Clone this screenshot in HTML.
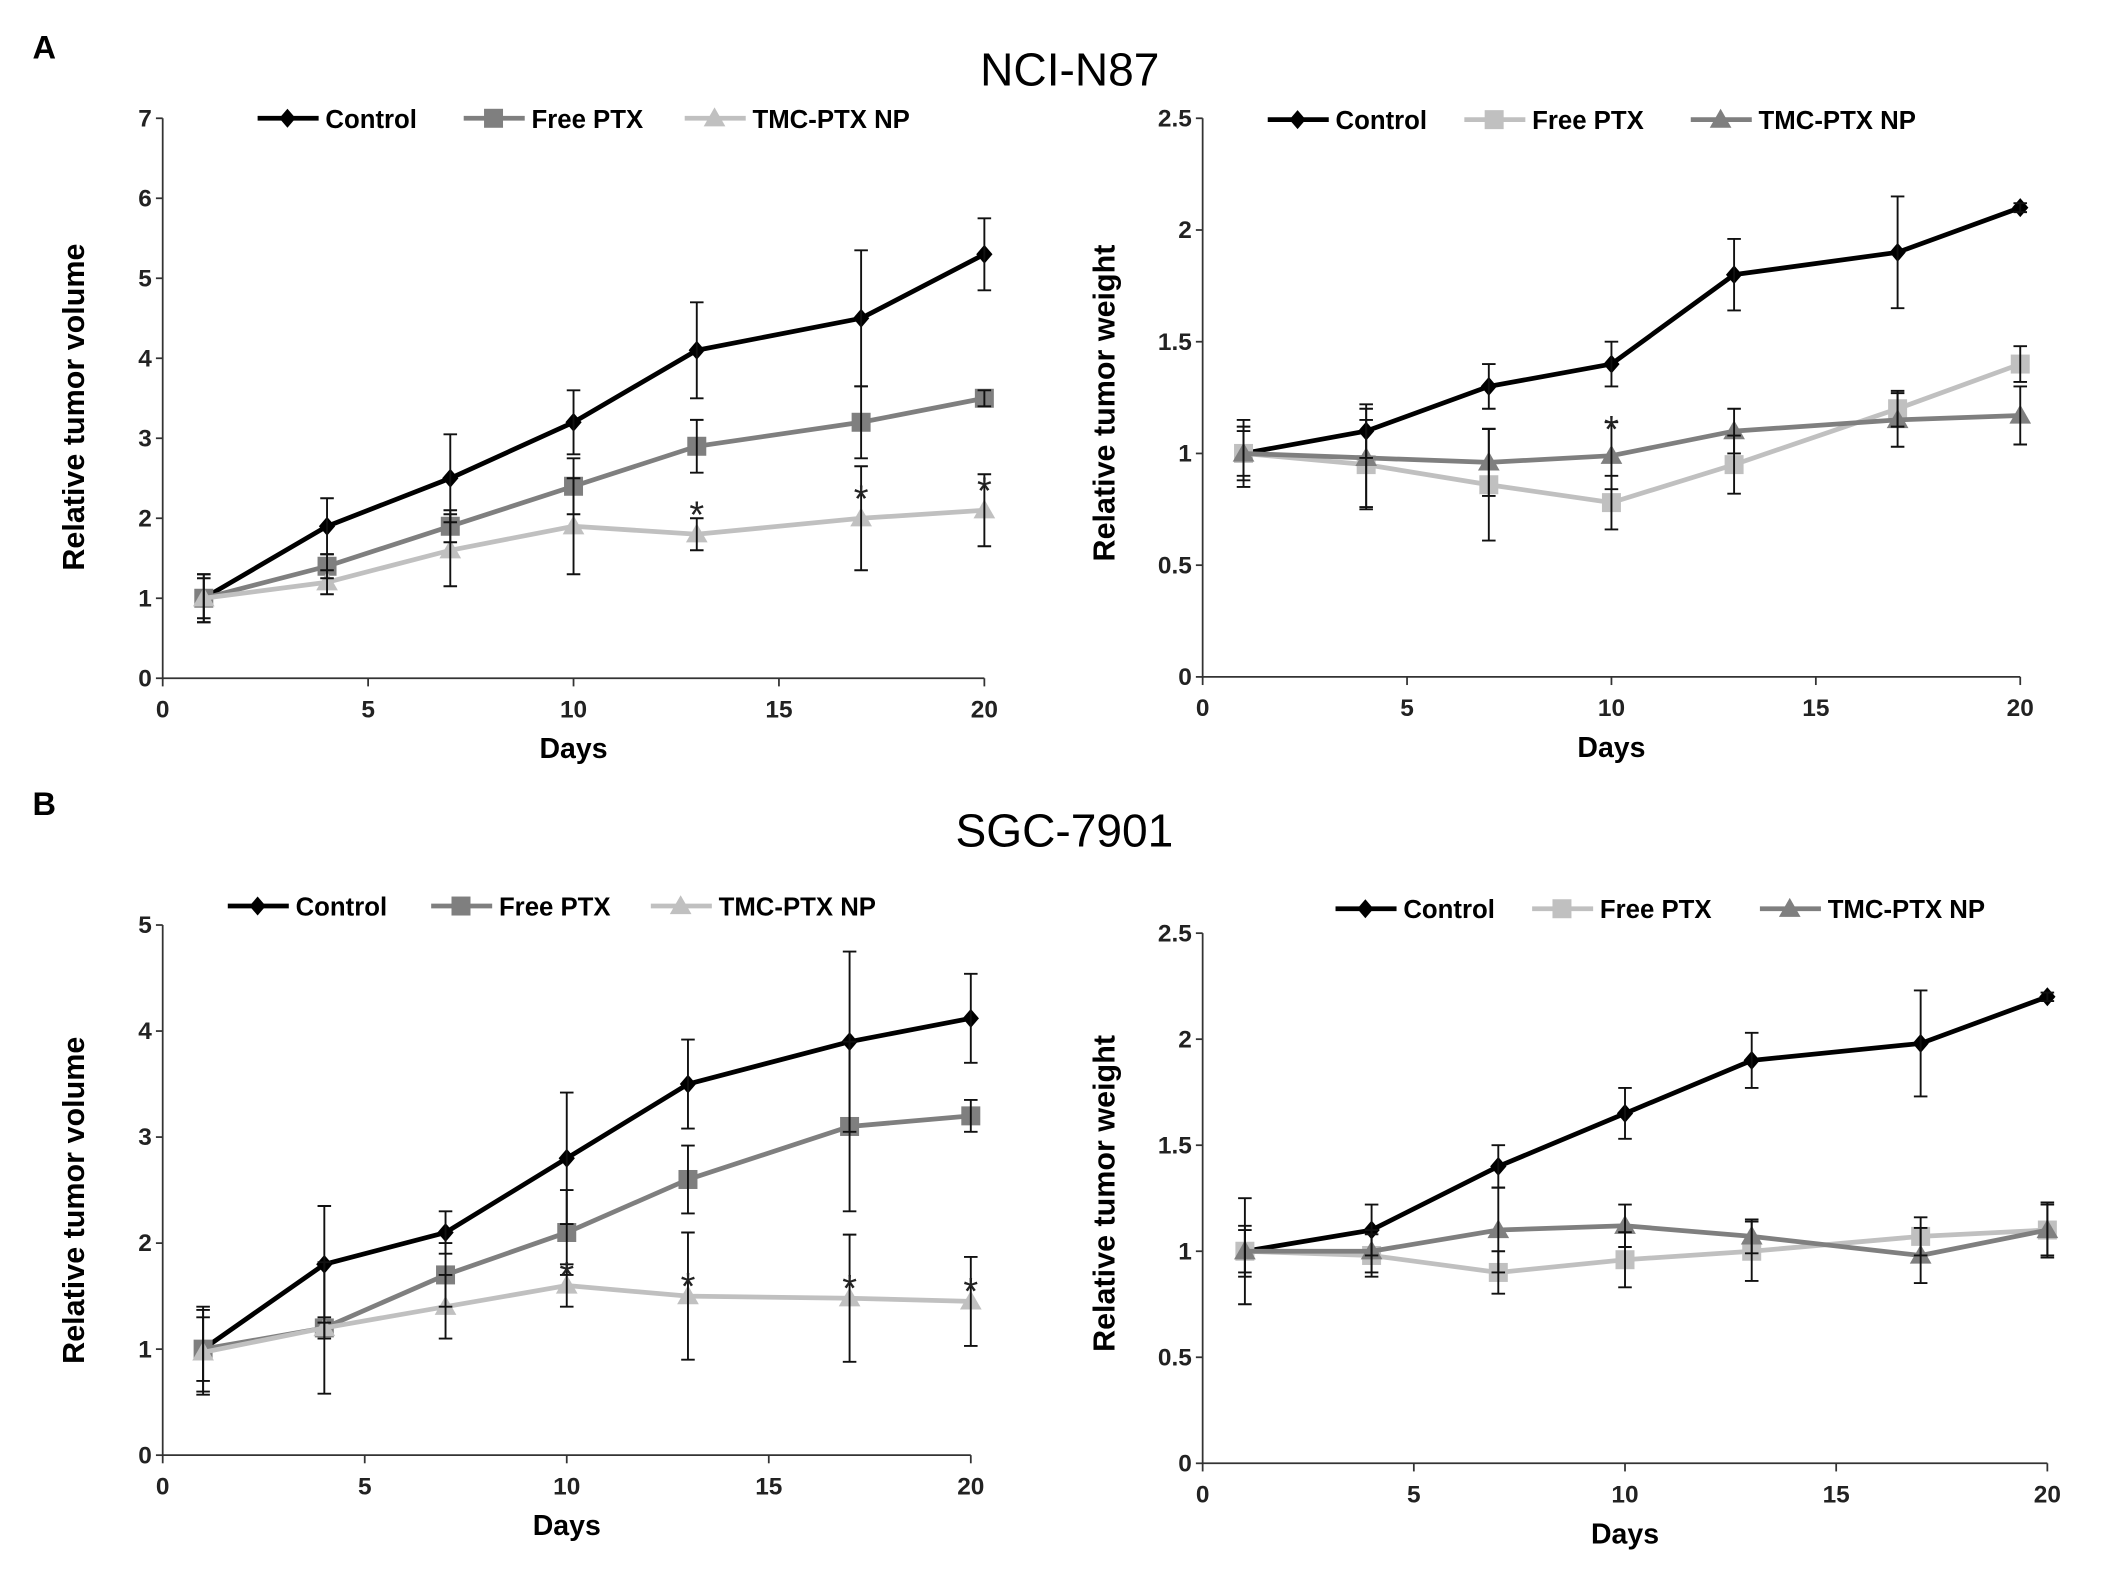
<!DOCTYPE html>
<html><head><meta charset="utf-8"><style>
html,body{margin:0;padding:0;background:#fff}
svg{display:block}
text{font-family:"Liberation Sans",sans-serif}
</style></head><body>
<svg id="fig" width="2126" height="1587" viewBox="0 0 1568 1170" xmlns="http://www.w3.org/2000/svg">
<rect width="1568" height="1170" fill="#fff"/>
<text x="24" y="43" font-family="Liberation Serif" font-weight="bold" font-size="24">A</text>
<text x="24" y="601" font-family="Liberation Serif" font-weight="bold" font-size="24">B</text>
<text x="789" y="63" text-anchor="middle" font-size="34">NCI-N87</text>
<text x="785" y="624" text-anchor="middle" font-size="34">SGC-7901</text>
</svg>
<script>
const days = [1,4,7,10,13,17,20];
// Panel A left: relative tumor volume
const aVolControl = [1,1.9,2.5,3.2,4.1,4.5,5.3];
const aVolControlErr = [0.3,0.35,0.55,0.4,0.6,0.85,0.45];
const aVolFree = [1,1.4,1.9,2.4,2.9,3.2,3.5];
const aVolFreeErr = [0.25,0.15,0.2,0.35,0.33,0.45,0.1];
const aVolTmc = [1,1.2,1.6,1.9,1.8,2.0,2.1];
const aVolTmcErr = [0.3,0.15,0.45,0.6,0.2,0.65,0.45];
const aVolStars = [13,17,20];
// Panel A right: relative tumor weight
const aWtControl = [1,1.1,1.3,1.4,1.8,1.9,2.1];
const aWtControlErr = [0.1,0.12,0.1,0.1,0.16,0.25,0.02];
const aWtFree = [1,0.95,0.86,0.78,0.95,1.2,1.4];
const aWtFreeErr = [0.15,0.2,0.25,0.12,0.13,0.08,0.08];
const aWtTmc = [1,0.98,0.96,0.99,1.1,1.15,1.17];
const aWtTmcErr = [0.12,0.22,0.15,0.15,0.1,0.12,0.13];
const aWtStars = [10];
// Panel B left
const bVolControl = [1,1.8,2.1,2.8,3.5,3.9,4.12];
const bVolControlErr = [0.4,0.55,0.2,0.62,0.42,0.85,0.42];
const bVolFree = [1,1.2,1.7,2.1,2.6,3.1,3.2];
const bVolFreeErr = [0.3,0.62,0.3,0.4,0.32,0.8,0.15];
const bVolTmc = [0.97,1.2,1.4,1.6,1.5,1.48,1.45];
const bVolTmcErr = [0.4,0.1,0.3,0.2,0.6,0.6,0.42];
const bVolStars = [10,13,17,20];
// Panel B right
const bWtControl = [1,1.1,1.4,1.65,1.9,1.98,2.2];
const bWtControlErr = [0.25,0.12,0.1,0.12,0.13,0.25,0.02];
const bWtFree = [1,0.98,0.9,0.96,1.0,1.07,1.1];
const bWtFreeErr = [0.12,0.1,0.1,0.13,0.14,0.09,0.12];
const bWtTmc = [1,1.0,1.1,1.12,1.07,0.98,1.1];
const bWtTmcErr = [0.1,0.1,0.2,0.1,0.08,0.13,0.13];
const bWtStars = [];
const xTicks = [0,5,10,15,20];
const volTicksA = [0,1,2,3,4,5,6,7];
const volTicksB = [0,1,2,3,4,5];
const wtTicks = [0,0.5,1,1.5,2,2.5];

const NS = "http://www.w3.org/2000/svg";
const svg = document.getElementById('fig');
function el(tag, attrs, parent){const e=document.createElementNS(NS,tag);for(const k in attrs)e.setAttribute(k,attrs[k]);(parent||svg).appendChild(e);return e;}

function drawMarker(g, shape, x, y, color){
  let m;
  if(shape==='diamond') m=el('polygon',{points:`${x},${y-7} ${x+6},${y} ${x},${y+7} ${x-6},${y}`,fill:color},g);
  else if(shape==='square') m=el('rect',{x:x-7,y:y-7,width:14,height:14,fill:color},g);
  else m=el('polygon',{points:`${x},${y-8} ${x+8},${y+6} ${x-8},${y+6}`,fill:color},g);
  return m;
}

function panel(o){
  const g=el('g',{});
  
  
  const X=d=>o.x0+(o.x1-o.x0)*d/20;
  const Y=v=>o.y0-(o.y0-o.y1)*v/o.ymax;
  const ax=el('path',{d:`M${o.x0},${o.y1} V${o.y0} H${o.x1}`,stroke:'#333',fill:'none','stroke-width':1.3},g);
  
  
  o.yTicks.forEach(t=>{
    el('line',{x1:o.x0-5,x2:o.x0,y1:Y(t),y2:Y(t),stroke:'#333','stroke-width':1.3},g);
    const tx=el('text',{x:o.x0-8,y:Y(t)+6,'text-anchor':'end','font-size':18,'font-weight':'bold',fill:'#222'},g);
    tx.textContent=t;
    
    
  });
  xTicks.forEach(t=>{
    el('line',{x1:X(t),x2:X(t),y1:o.y0,y2:o.y0+6,stroke:'#333','stroke-width':1.3},g);
    const tx=el('text',{x:X(t),y:o.y0+29,'text-anchor':'middle','font-size':18,'font-weight':'bold',fill:'#222'},g);
    tx.textContent=t;
    
    
  });
  const xl=el('text',{x:(o.x0+o.x1)/2,y:o.y0+59,'text-anchor':'middle','font-size':21,'font-weight':'bold'},g);
  xl.textContent='Days';
  
  
  const yl=el('text',{x:0,y:0,'text-anchor':'middle','font-size':22.5,'font-weight':'bold',transform:`translate(${o.ylx},${o.yly}) rotate(-90)`},g);
  yl.textContent=o.ylabel;
  
  
  o.series.forEach(s=>{
    const sg=el('g',{},g);
    
    
    el('polyline',{points:days.map((d,i)=>`${X(d)},${Y(s.vals[i])}`).join(' '),fill:'none',stroke:s.color,'stroke-width':3.5},sg);
    days.forEach((d,i)=>{
      const m=drawMarker(sg,s.shape,X(d),Y(s.vals[i]),s.color);
      
      
    });
  });
  o.series.forEach(s=>{
    days.forEach((d,i)=>{
      const x=X(d),a=Y(s.vals[i]+s.err[i]),b=Y(s.vals[i]-s.err[i]);
      const e=el('path',{d:`M${x},${a} V${b} M${x-5},${a} H${x+5} M${x-5},${b} H${x+5}`,stroke:'#111','stroke-width':1.4,fill:'none'},g);
      
      
    });
  });
  o.stars.forEach(d=>{
    const i=days.indexOf(d);
    const s=o.series[o.starSeries];
    const st=el('text',{x:X(d),y:Y(s.vals[i])+o.starOff,'text-anchor':'middle','font-size':28,fill:'#222'},g);
    st.textContent='*';
    
    
  });
  o.series.forEach((s,k)=>{
    const lg=el('g',{},g);
    
    
    const lx=o.legX[k];
    el('line',{x1:lx,x2:lx+45,y1:o.legY,y2:o.legY,stroke:s.color,'stroke-width':3.5},lg);
    drawMarker(lg,s.shape,lx+22,o.legY,s.color);
    const t=el('text',{x:lx+50,y:o.legY+7,'font-size':19,'font-weight':'bold'},lg);
    t.textContent=s.label;
  });
}
const BLK='#000',DRK='#7f7f7f',LGT='#c0c0c0';
panel({name:'chart-a-volume',x0:120,x1:726,y0:500,y1:87,ymax:7,yTicks:volTicksA,ylabel:'Relative tumor volume',ylx:62,yly:300,
  series:[{key:'control',label:'Control',vals:aVolControl,err:aVolControlErr,color:BLK,shape:'diamond'},
          {key:'free-ptx',label:'Free PTX',vals:aVolFree,err:aVolFreeErr,color:DRK,shape:'square'},
          {key:'tmc-ptx-np',label:'TMC-PTX NP',vals:aVolTmc,err:aVolTmcErr,color:LGT,shape:'triangle'}],
  stars:aVolStars,starSeries:2,starOff:-5,legX:[190,342,505],legY:87});
panel({name:'chart-a-weight',x0:887,x1:1490,y0:499,y1:87,ymax:2.5,yTicks:wtTicks,ylabel:'Relative tumor weight',ylx:822,yly:297,
  series:[{key:'control',label:'Control',vals:aWtControl,err:aWtControlErr,color:BLK,shape:'diamond'},
          {key:'free-ptx',label:'Free PTX',vals:aWtFree,err:aWtFreeErr,color:LGT,shape:'square'},
          {key:'tmc-ptx-np',label:'TMC-PTX NP',vals:aWtTmc,err:aWtTmcErr,color:DRK,shape:'triangle'}],
  stars:aWtStars,starSeries:2,starOff:-10,legX:[935,1080,1247],legY:88});
panel({name:'chart-b-volume',x0:120,x1:716,y0:1073,y1:682,ymax:5,yTicks:volTicksB,ylabel:'Relative tumor volume',ylx:62,yly:885,
  series:[{key:'control',label:'Control',vals:bVolControl,err:bVolControlErr,color:BLK,shape:'diamond'},
          {key:'free-ptx',label:'Free PTX',vals:bVolFree,err:bVolFreeErr,color:DRK,shape:'square'},
          {key:'tmc-ptx-np',label:'TMC-PTX NP',vals:bVolTmc,err:bVolTmcErr,color:LGT,shape:'triangle'}],
  stars:bVolStars,starSeries:2,starOff:2,legX:[168,318,480],legY:668});
panel({name:'chart-b-weight',x0:887,x1:1510,y0:1079,y1:688,ymax:2.5,yTicks:wtTicks,ylabel:'Relative tumor weight',ylx:822,yly:880,
  series:[{key:'control',label:'Control',vals:bWtControl,err:bWtControlErr,color:BLK,shape:'diamond'},
          {key:'free-ptx',label:'Free PTX',vals:bWtFree,err:bWtFreeErr,color:LGT,shape:'square'},
          {key:'tmc-ptx-np',label:'TMC-PTX NP',vals:bWtTmc,err:bWtTmcErr,color:DRK,shape:'triangle'}],
  stars:bWtStars,starSeries:2,starOff:0,legX:[985,1130,1298],legY:670});
</script>
</body></html>
